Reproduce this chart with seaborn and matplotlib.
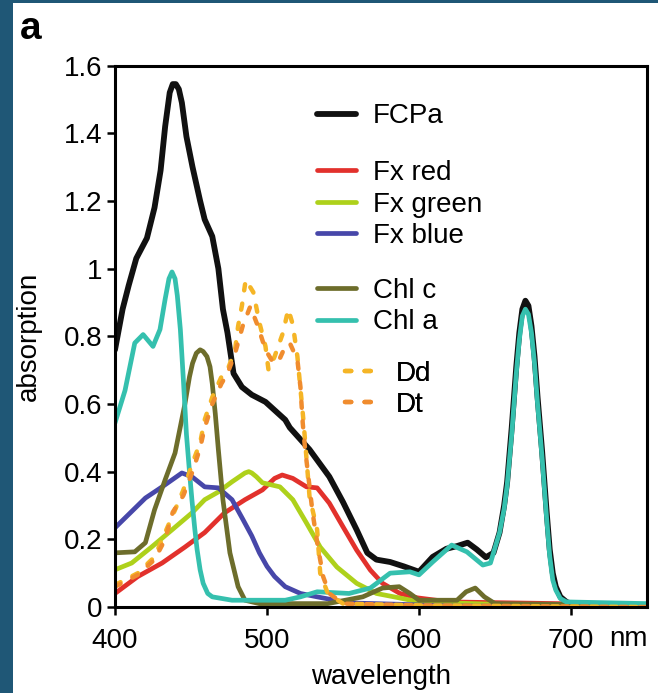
import numpy as np
import pandas as pd
import matplotlib
matplotlib.use("Agg")
import matplotlib.pyplot as plt
import matplotlib.patches as mpatches
import matplotlib.transforms as mtransforms
import seaborn as sns

# ---- absorption spectra (wavelength in nm, absorption) ----
fcpa_nm = [400, 405, 409, 414, 421, 426, 430, 433, 436, 438, 440, 442, 444, 447, 451, 456, 459,
           464, 468, 471, 474, 478, 483.5, 490, 499, 512, 515, 528, 541, 550, 559, 566, 572,
           581, 590, 600, 609, 618, 625, 632, 638, 644, 649, 653, 656, 658, 661, 664, 666, 668,
           670, 672, 674, 676, 678, 681, 684, 686, 688, 690, 693, 697, 700, 750]
fcpa_abs = [0.76, 0.88, 0.95, 1.03, 1.09, 1.18, 1.29, 1.42, 1.52, 1.545, 1.545, 1.53, 1.49, 1.39,
            1.30, 1.20, 1.145, 1.095, 1.0, 0.88, 0.81, 0.69, 0.65, 0.627, 0.606, 0.553, 0.53,
            0.465, 0.385, 0.31, 0.228, 0.16, 0.14, 0.133, 0.12, 0.104, 0.148, 0.172, 0.18,
            0.19, 0.17, 0.147, 0.16, 0.22, 0.30, 0.37, 0.53, 0.71, 0.81, 0.88, 0.905, 0.89,
            0.83, 0.74, 0.62, 0.46, 0.28, 0.17, 0.10, 0.06, 0.03, 0.015, 0.01, 0.005]

fx_red_nm = [400, 415, 431, 446, 459, 472, 485.5, 497, 505, 510, 517, 526, 533, 541, 550, 559,
             568, 576, 587.5, 599, 620, 720, 750]
fx_red_abs = [0.04, 0.09, 0.13, 0.177, 0.22, 0.278, 0.317, 0.346, 0.38, 0.39, 0.38, 0.355, 0.352,
              0.307, 0.237, 0.168, 0.109, 0.07, 0.04, 0.027, 0.015, 0.008, 0.003]

fx_green_nm = [400, 411, 424, 437.5, 450.6, 459, 468, 477, 485.5, 488, 490, 493, 497, 508.5, 517,
               526, 535, 546, 559, 572, 587, 600, 650, 750]
fx_green_abs = [0.11, 0.13, 0.177, 0.228, 0.278, 0.317, 0.34, 0.37, 0.396, 0.40, 0.396, 0.385,
                0.367, 0.355, 0.317, 0.248, 0.177, 0.118, 0.07, 0.04, 0.027, 0.015, 0.008, 0.003]

fx_blue_nm = [400, 410, 420, 431, 444, 450.6, 459, 468, 477, 484, 490, 495, 500, 505, 512, 522,
              533, 554, 587, 620, 750]
fx_blue_abs = [0.234, 0.278, 0.322, 0.355, 0.396, 0.385, 0.355, 0.352, 0.317, 0.26, 0.21, 0.16,
               0.12, 0.09, 0.06, 0.04, 0.03, 0.012, 0.008, 0.003, 0.0]

chl_c_nm = [400, 413, 420, 426, 433, 439.5, 446, 449, 451, 453.5, 456, 458, 460.5, 462.5, 464,
            466, 468, 471, 475.6, 481, 485.5, 495, 540, 563, 576, 587, 594, 600, 625, 631, 637,
            643, 650, 750]
chl_c_abs = [0.16, 0.163, 0.19, 0.287, 0.376, 0.455, 0.60, 0.68, 0.72, 0.75, 0.76, 0.755, 0.74,
             0.71, 0.66, 0.57, 0.465, 0.317, 0.16, 0.06, 0.02, 0.01, 0.01, 0.03, 0.056, 0.06,
             0.04, 0.02, 0.02, 0.045, 0.056, 0.03, 0.01, 0.005]

chl_a_nm = [400, 406.6, 413, 418.5, 425, 429.6, 433, 435.5, 437.5, 439.5, 441, 443, 445, 447, 449,
            450.6, 452.5, 454, 456, 458, 461, 464, 477, 512, 522, 533, 554, 568, 581, 594, 600,
            609, 621.5, 631.5, 642, 647, 653, 656, 658, 661, 664, 666, 668, 670, 672, 674, 676,
            678, 681, 684, 686, 688, 690, 693, 697, 750]
chl_a_abs = [0.544, 0.64, 0.78, 0.805, 0.77, 0.82, 0.91, 0.97, 0.99, 0.97, 0.92, 0.82, 0.67,
             0.51, 0.40, 0.317, 0.23, 0.17, 0.11, 0.07, 0.04, 0.03, 0.02, 0.02, 0.03, 0.045,
             0.04, 0.056, 0.10, 0.104, 0.095, 0.133, 0.183, 0.163, 0.124, 0.13, 0.22, 0.29,
             0.36, 0.51, 0.69, 0.79, 0.86, 0.88, 0.865, 0.81, 0.72, 0.60, 0.44, 0.26, 0.15,
             0.08, 0.05, 0.025, 0.015, 0.01]

dd_nm = [400, 415, 426, 433, 439.5, 445, 451, 456, 459, 464, 470, 474, 479, 481, 483.5, 486, 491,
         495, 499, 501, 505, 510.5, 514, 517, 520, 524, 528, 533, 535, 540, 550, 600, 750]
dd_abs = [0.065, 0.10, 0.148, 0.22, 0.287, 0.346, 0.426, 0.485, 0.553, 0.62, 0.68, 0.70, 0.76,
          0.83, 0.89, 0.967, 0.93, 0.84, 0.77, 0.70, 0.74, 0.81, 0.88, 0.834, 0.74, 0.55, 0.325,
          0.228, 0.10, 0.04, 0.01, 0.005, 0.0]

dt_nm = [400, 415, 426, 433, 438, 445, 451, 456, 459, 464, 470, 474, 479, 484, 489, 494, 499, 503,
         507, 511, 515, 520, 522, 523.5, 525, 528, 530, 533.5, 537, 541, 550, 600, 750]
dt_abs = [0.06, 0.095, 0.14, 0.2, 0.28, 0.33, 0.40, 0.47, 0.53, 0.60, 0.66, 0.69, 0.75, 0.83,
          0.888, 0.83, 0.76, 0.73, 0.72, 0.76, 0.78, 0.73, 0.65, 0.544, 0.47, 0.355, 0.278,
          0.177, 0.089, 0.04, 0.01, 0.005, 0.0]

series_names = ["FCPa", "Fx red", "Fx green", "Fx blue", "Chl c", "Chl a", "Dd", "Dt"]
series_data = [(fcpa_nm, fcpa_abs), (fx_red_nm, fx_red_abs), (fx_green_nm, fx_green_abs),
               (fx_blue_nm, fx_blue_abs), (chl_c_nm, chl_c_abs), (chl_a_nm, chl_a_abs),
               (dd_nm, dd_abs), (dt_nm, dt_abs)]
series_colors = ["#111111", "#e2312c", "#aed11b", "#4747a9", "#6d6d2b", "#35c0ae",
                 "#f5b526", "#f08c2e"]

x_ticks = [400, 500, 600, 700]
y_ticks = [0, 0.2, 0.4, 0.6, 0.8, 1.0, 1.2, 1.4, 1.6]
y_tick_labels = ["0", "0.2", "0.4", "0.6", "0.8", "1", "1.2", "1.4", "1.6"]

# ---- figure ----
sns.set_style("ticks")
plt.rcParams["font.family"] = ["Liberation Sans", "DejaVu Sans"]
plt.rcParams["text.color"] = "black"
plt.rcParams["axes.labelcolor"] = "black"

FS = 20
W, H = 658, 693
fig = plt.figure(figsize=(W / 100, H / 100), dpi=100)
fig.patch.set_facecolor("#1f5776")
fig.patches.append(mpatches.Rectangle((13 / W, 0), 1 - 13 / W, 1 - 3 / H,
                                      transform=fig.transFigure, facecolor="white",
                                      edgecolor="none", zorder=-5))

ax = fig.add_axes([115 / W, 1 - 607 / H, 532 / W, 541.5 / H])
ax.set_zorder(2)
ax.set_facecolor("white")

for name, (nm, ab), col in zip(series_names, series_data, series_colors):
    df = pd.DataFrame({"wavelength": nm, "absorption": ab})
    kws = dict(color=col, linewidth=3.4, solid_capstyle="round", solid_joinstyle="round")
    if name == "FCPa":
        kws["linewidth"] = 4.2
    if name in ("Dd", "Dt"):
        kws = dict(color=col, linewidth=3.2, linestyle=(0, (1.4, 3.0)),
                   dash_capstyle="round", dash_joinstyle="round")
    sns.lineplot(data=df, x="wavelength", y="absorption", ax=ax, estimator=None,
                 sort=False, legend=False, **kws)

ax.set_xlim(400, 750)
ax.set_ylim(0, 1.6)
ax.set_xticks(x_ticks)
ax.set_xticklabels([str(t) for t in x_ticks])
ax.set_yticks(y_ticks)
ax.set_yticklabels(y_tick_labels)
for sp in ax.spines.values():
    sp.set_visible(True)
    sp.set_linewidth(2.2)
    sp.set_color("black")
ax.tick_params(axis="both", direction="out", length=6, width=1.8, labelsize=FS,
               colors="black", pad=3)
ax.tick_params(axis="x", pad=9)
ax.set_xlabel("wavelength", fontsize=FS, labelpad=7, color="black")
ax.set_ylabel("absorption", fontsize=FS, labelpad=16, color="black")

# unit label next to the last tick
trans = mtransforms.blended_transform_factory(ax.transData, ax.transAxes)
ax.text(738, -0.036, "nm", transform=trans, ha="center", va="top", fontsize=FS,
        color="black")

# grouped legends
lines = ax.get_lines()
groups = [([0], 0.3797, 0.906), ([1, 2, 3], 0.3797, 0.743), ([4, 5], 0.3797, 0.555),
          ([6, 7], 0.4323, 0.402)]
for idx, gx, gy in groups:
    hl = 1.25 if idx[0] >= 6 else 1.42
    leg = ax.legend([lines[i] for i in idx], [series_names[i] for i in idx],
                    loc="center left", bbox_to_anchor=(gx, gy), frameon=False,
                    fontsize=FS, handlelength=hl, handletextpad=0.58, labelspacing=0.2,
                    borderpad=0, borderaxespad=0, labelcolor="black")
    ax.add_artist(leg)

fig.text(20 / W, 1 - 39 / H, "a", fontsize=28, fontweight="bold", va="baseline", ha="left",
         color="black")

fig.savefig("out.png", dpi=100, facecolor=fig.get_facecolor())
